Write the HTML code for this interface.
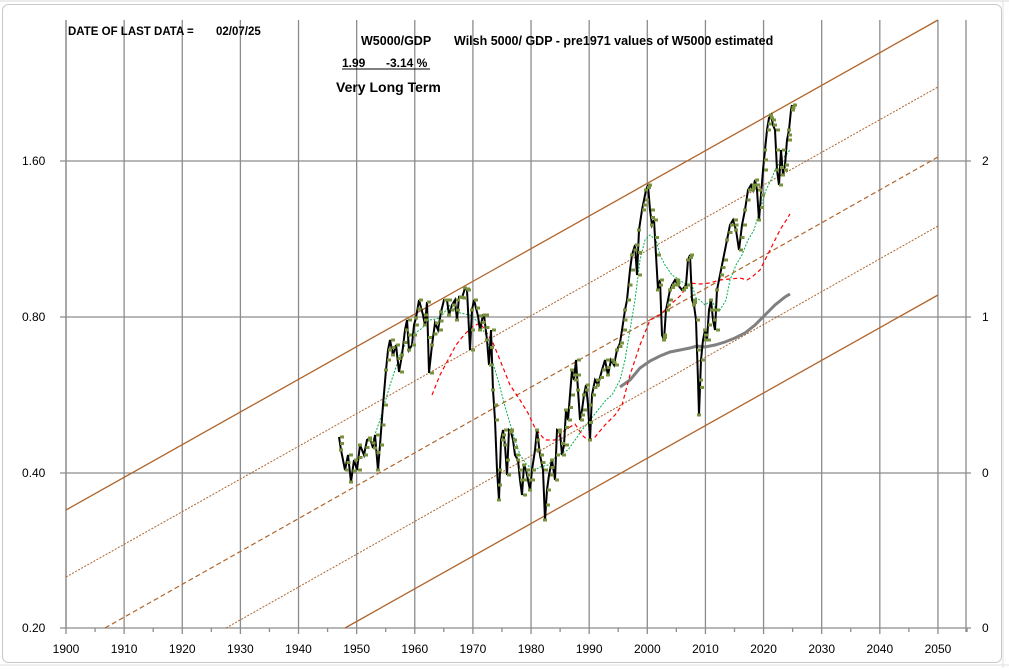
<!DOCTYPE html>
<html><head><meta charset="utf-8"><style>
html,body{margin:0;padding:0;background:#fff;width:1009px;height:669px;overflow:hidden;}
svg{display:block;font-family:"Liberation Sans",Arial,sans-serif;}
</style></head><body>
<svg id="s" width="1009" height="669" viewBox="0 0 1009 669" xmlns="http://www.w3.org/2000/svg">
<rect x="0" y="0" width="1009" height="669" fill="#fff"/>
<line x1="0" y1="1" x2="1009" y2="1" stroke="#d8d8d8"/>
<rect x="2.5" y="4.5" width="999" height="658" rx="6" fill="#fff" stroke="#c8c8c8"/>
<line x1="1003" y1="0" x2="1003" y2="668" stroke="#e0e0e0"/>
<line x1="0" y1="665" x2="1009" y2="665" stroke="#e0e0e0"/>
<g id="grid" stroke="#8c8c8c" stroke-width="1.3"></g>
<g stroke="#b0642a" fill="none">
<line x1="66" y1="510" x2="938" y2="20" stroke-width="1.3"/>
<line x1="66" y1="577" x2="938" y2="87" stroke-width="1" stroke-dasharray="2,1.5"/>
<line x1="105" y1="628" x2="938" y2="157" stroke-width="1.2" stroke-dasharray="5,3"/>
<line x1="226" y1="628" x2="938" y2="226" stroke-width="1" stroke-dasharray="2,1.5"/>
<line x1="345" y1="628" x2="938" y2="295" stroke-width="1.3"/>
</g>
<g id="data"></g>
<g font-size="12" fill="#000" id="labels"></g>
<text x="68" y="35" font-size="11.5" font-weight="bold">DATE OF LAST DATA =</text>
<text x="216" y="35" font-size="11.5" font-weight="bold">02/07/25</text>
<text x="361" y="45" font-size="12.5" font-weight="bold">W5000/GDP</text>
<text x="454" y="45" font-size="12.5" font-weight="bold">Wilsh 5000/ GDP - pre1971 values of W5000 estimated</text>
<text x="342" y="67" font-size="12" font-weight="bold">1.99</text>
<text x="386" y="67" font-size="12" font-weight="bold">-3.14 %</text>
<line x1="342" y1="69" x2="430" y2="69" stroke="#000" stroke-width="1"/>
<text x="336" y="92" font-size="14" font-weight="bold">Very Long Term</text>
</svg>
<script>
var NS="http://www.w3.org/2000/svg";
function el(p,t,a){var e=document.createElementNS(NS,t);for(var k in a)e.setAttribute(k,a[k]);p.appendChild(e);return e;}
var g=document.getElementById("grid"),L=document.getElementById("labels"),D=document.getElementById("data");
function X(y){return 66+(y-1900)*5.813;}
for(var yr=1900;yr<=2050;yr+=10){var x=X(yr);el(g,"line",{x1:x,y1:20,x2:x,y2:634});
 var t=el(L,"text",{x:x,y:653,"text-anchor":"middle"});t.textContent=yr;}
for(var yr=1905;yr<=2055;yr+=10){var x=X(yr);el(g,"line",{x1:x,y1:628,x2:x,y2:632});}
[[161,"1.60","2"],[317,"0.80","1"],[473,"0.40","0"],[628,"0.20","0"]].forEach(function(r){
 el(g,"line",{x1:60,y1:r[0],x2:971,y2:r[0]});
 var t=el(L,"text",{x:22,y:r[0]+4});t.textContent=r[1];
 var t2=el(L,"text",{x:982,y:r[0]+4});t2.textContent=r[2];});
el(g,"line",{x1:66,y1:20,x2:66,y2:628});
el(g,"line",{x1:966,y1:20,x2:966,y2:632});
function pts(a){return a.map(function(p){return p.join(",")}).join(" ");}
var gr=[[620,387],[630,380],[640,368],[650,361],[660,356],[670,352],[680,350],[690,348],[697,346],[705,347],[715,345],[725,342],[735,338],[745,333],[755,325],[765,315],[775,305],[785,297],[790,294]];
el(D,"polyline",{points:pts(gr),fill:"none",stroke:"#808080","stroke-width":3});
var red=[[432,395],[440,375],[448,360],[456,345],[464,335],[472,327],[480,323],[485,330],[493,343],[500,360],[510,385],[520,400],[528,413],[535,428],[545,440],[555,440],[565,430],[575,424],[583,436],[588,440],[595,437],[605,425],[615,415],[622,405],[630,375],[640,345],[650,320],[660,315],[670,305],[680,296],[690,283],[700,284],[710,283],[720,280],[730,279],[740,278],[747,280],[752,277],[760,270],[770,250],[780,230],[790,214]];
el(D,"polyline",{points:pts(red),fill:"none",stroke:"#ff0000","stroke-width":1.2,"stroke-dasharray":"4,3"});
var grn=[[372,443],[380,420],[390,385],[400,355],[410,335],[420,330],[430,320],[440,318],[450,305],[460,313],[470,315],[478,322],[486,335],[492,360],[498,380],[506,410],[512,430],[520,455],[527,465],[535,470],[540,467],[548,465],[558,455],[568,450],[575,440],[582,430],[590,420],[598,410],[606,400],[612,395],[620,380],[625,360],[630,330],[635,300],[640,260],[645,240],[650,235],[656,240],[660,255],[665,265],[672,275],[680,280],[686,285],[692,285],[696,298],[700,300],[705,305],[712,300],[716,310],[720,310],[726,300],[730,280],[736,265],[742,255],[748,240],[754,230],[760,210],[766,190],[771,180],[775,170],[781,160],[786,155],[790,150]];
el(D,"polyline",{points:pts(grn),fill:"none",stroke:"#00b050","stroke-width":1,"stroke-dasharray":"2,1.5"});
var m=[[339,437],[341,450],[345,470],[348,455],[351,482],[354,460],[357,470],[360,445],[364,455],[367,440],[370,438],[373,448],[375,435],[378,470],[380,445],[383,405],[386,370],[388,350],[390,340],[393,355],[396,345],[399,372],[402,355],[405,330],[407,320],[409,350],[412,345],[414,325],[416,318],[419,300],[423,315],[425,325],[427,302],[429,373],[432,345],[435,323],[438,330],[441,312],[444,300],[447,300],[449,315],[452,305],[455,300],[457,320],[459,297],[462,298],[465,288],[467,290],[470,350],[472,310],[474,300],[478,316],[480,330],[483,315],[484,315],[487,340],[489,365],[491,330],[493,390],[495,420],[497,470],[499,500],[501,440],[503,430],[505,445],[507,475],[509,430],[511,432],[513,440],[515,455],[518,460],[520,480],[522,495],[524,465],[526,470],[528,480],[530,490],[532,470],[535,450],[537,430],[540,455],[543,470],[545,520],[547,490],[549,475],[552,460],[555,480],[557,430],[560,432],[562,455],[564,445],[566,410],[568,420],[570,395],[572,370],[574,380],[576,360],[578,390],[580,420],[582,410],[584,395],[586,385],[588,405],[590,440],[592,395],[595,380],[598,385],[602,370],[605,360],[608,375],[611,360],[614,365],[617,350],[620,343],[622,330],[625,310],[627,300],[630,270],[632,255],[635,245],[637,275],[639,230],[642,210],[644,200],[646,190],[648,185],[650,210],[652,225],[654,220],[656,255],[658,290],[660,280],[662,335],[664,340],[666,310],[668,300],[670,290],[672,285],[675,280],[678,285],[682,290],[686,285],[688,260],[690,255],[692,300],[694,305],[696,320],[698,380],[699,415],[701,360],[703,340],[705,330],[707,340],[709,310],[711,300],[713,320],[715,330],[717,290],[720,275],[723,260],[727,240],[730,225],[733,220],[736,230],[739,250],[742,225],[745,210],[748,190],[751,185],[753,190],[755,180],[757,190],[759,220],[761,195],[763,170],[765,150],[767,130],[769,118],[771,115],[773,125],[775,130],[777,170],[779,185],[781,150],[783,175],[785,165],[787,140],[789,130],[791,110],[792,105]];
el(D,"polyline",{points:pts(m),fill:"none",stroke:"#000","stroke-width":2});
for(var i=0;i<m.length;i++){var x=m[i][0],y=m[i][1];var off=(i%3==0)?1:(i%3==1?-2:0);
 el(D,"rect",{x:x+off,y:y-1.5,width:4,height:3,fill:"#77913c"});
 if(i<m.length-1 && i%2==0){var x2=(x+m[i+1][0])/2,y2=(y+m[i+1][1])/2;el(D,"rect",{x:x2,y:y2-1.5,width:4,height:3,fill:"#77913c"});}}
</script>
</body></html>
